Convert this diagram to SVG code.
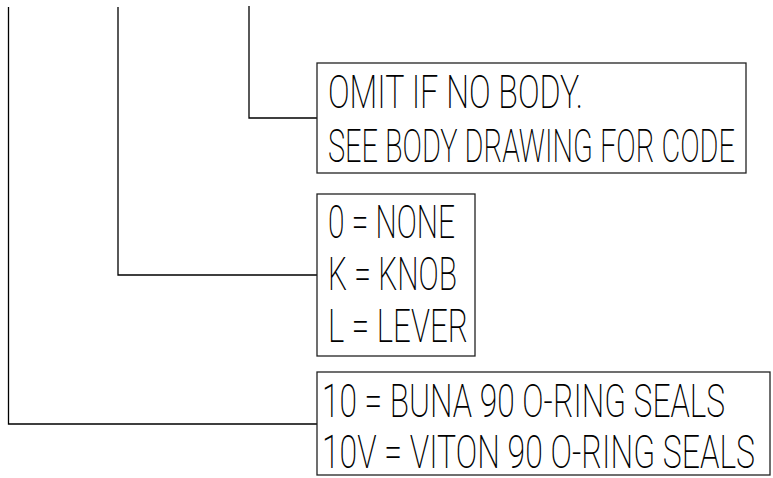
<svg xmlns="http://www.w3.org/2000/svg" width="773" height="478" viewBox="0 0 773 478">
<style>
.ln{fill:none;stroke:#000;stroke-width:1.3}
.bx{fill:#fff;stroke:#222;stroke-width:1.3}
.t{font-family:Roboto,Inter,"Liberation Sans",sans-serif;font-weight:200;font-size:46px;fill:#000}
</style>
<rect width="773" height="478" fill="#fff"/>
<g id="connectors">
<polyline class="ln" points="249,6 249,118 317,118"/>
<polyline class="ln" points="118,7 118,275 317,275"/>
<polyline class="ln" points="8.5,7 8.5,424 317,424"/>
</g>
<g id="body">
<rect class="bx" x="317" y="63" width="429" height="110"/>
<text class="t" transform="translate(328,108) scale(0.63,1)" x="0" y="0" textLength="404.8" lengthAdjust="spacingAndGlyphs">OMIT IF NO BODY.</text>
<text class="t" transform="translate(328,162) scale(0.63,1)" x="0" y="0" textLength="646" lengthAdjust="spacingAndGlyphs">SEE BODY DRAWING FOR CODE</text>
</g>
<g id="handle">
<rect class="bx" x="317" y="194" width="158" height="162"/>
<text class="t" transform="translate(328,238) scale(0.63,1)" x="0" y="0" textLength="201.6" lengthAdjust="spacingAndGlyphs">0 = NONE</text>
<text class="t" transform="translate(328,290) scale(0.63,1)" x="0" y="0" textLength="204.8" lengthAdjust="spacingAndGlyphs">K = KNOB</text>
<text class="t" transform="translate(328,342) scale(0.63,1)" x="0" y="0" textLength="222.2" lengthAdjust="spacingAndGlyphs">L = LEVER</text>
</g>
<g id="seals">
<rect class="bx" x="317" y="372" width="453" height="103"/>
<text class="t" transform="translate(322,417) scale(0.63,1)" x="0" y="0" textLength="639.7" lengthAdjust="spacingAndGlyphs">10 = BUNA 90 O-RING SEALS</text>
<text class="t" transform="translate(322,468) scale(0.63,1)" x="0" y="0" textLength="687.3" lengthAdjust="spacingAndGlyphs">10V = VITON 90 O-RING SEALS</text>
</g>
</svg>
